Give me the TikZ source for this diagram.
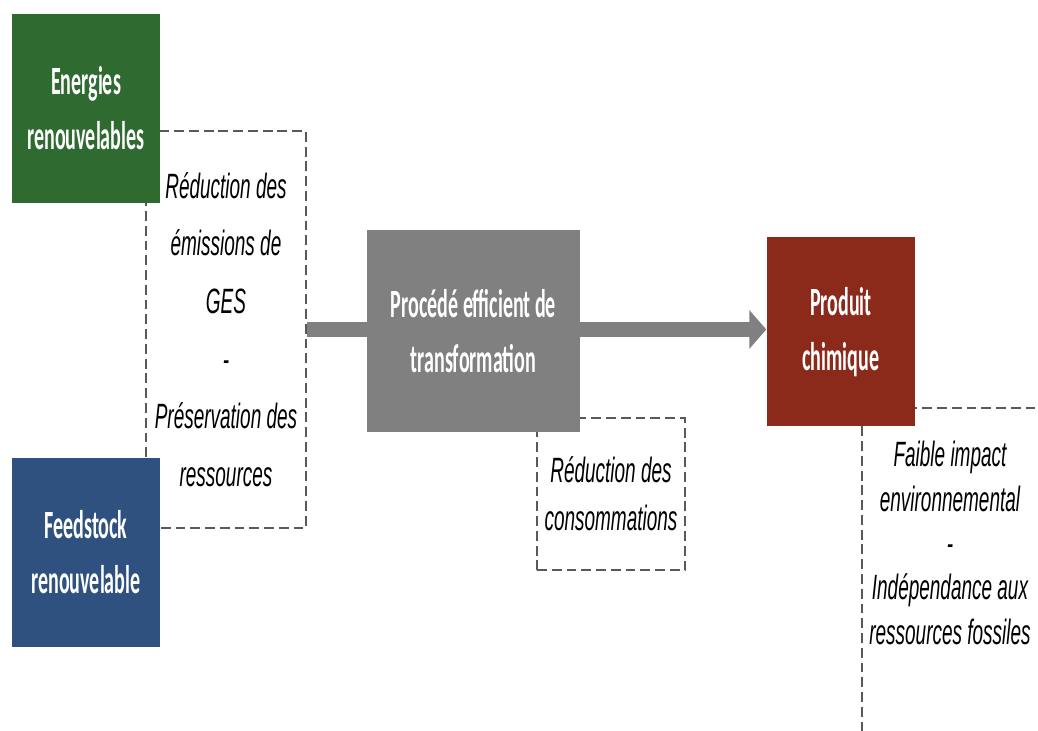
\documentclass[tikz,border=0pt]{standalone}
\usepackage{fontspec}
\setmainfont{Liberation Sans}
\newfontfamily\boxfont[FakeStretch=0.5]{Carlito}
\newfontfamily\notefont[FakeStretch=0.54]{Liberation Sans}
\usetikzlibrary{arrows.meta}
\pgfdeclarelayer{background}
\pgfsetlayers{background,main}
\definecolor{energy green}{RGB}{47,106,49}
\definecolor{feed blue}{RGB}{46,81,128}
\definecolor{product red}{RGB}{139,42,26}
\colorlet{process gray}{black!50}
\colorlet{frame edge}{black!65}
\tikzset{
  block/.style={fill=process gray, text=white, minimum width=1.48cm, minimum height=1.89cm, inner sep=0pt, align=center, font=\boxfont\bfseries\fontsize{11.4}{15.6}\selectfont},
  note/.style={align=center, inner sep=0pt, font=\notefont\itshape\fontsize{10}{16.4}\selectfont}
  }
\tikzstyle{frame} = [draw=frame edge, line width=0.6pt, dash pattern=on 2.8pt off 1.4pt]
\tikzstyle{flow} = [draw=process gray, line width=0.15cm, -{Triangle[length=0.17cm,width=0.38cm]}]

\begin{document}
\begin{tikzpicture}
    \useasboundingbox (0,0) rectangle (10.38,7.31);

    \foreach \name/\pos/\col/\txt in {ener/{(0.86,6.225)}/energy green/{Energies\\renouvelables}, feed/{(0.86,1.785)}/feed blue/{Feedstock\\renouvelable}, prod/{(8.41,3.99)}/product red/{Produit\\chimique}}
      \node[block, fill=\col] (\name) at \pos {\txt};

    \node[block, minimum width=2.13cm, minimum height=2.02cm] (proc) at (4.735,4.0) {Procédé efficient de\\transformation};

    \node[note] (impact) at (9.5,1.88) [font=\notefont\itshape\fontsize{10}{12.6}\selectfont]
      {Faible impact\\environnemental\\-\\Indépendance aux\\ressources fossiles};

    % frames and flow sit behind the blocks
    \begin{pgfonlayer}{background}
      \node[note, frame, minimum width=1.6cm, minimum height=3.97cm] (gains) at (2.26,4.015)
        {Réduction des\\émissions de\\GES\\-\\Préservation des\\ressources};
      \node[note, frame, minimum width=1.48cm, minimum height=1.52cm] (conso) at (6.11,2.37)
        [font=\notefont\itshape\fontsize{10}{13.7}\selectfont] {Réduction des\\consommations};
      \begin{scope}
        \clip (0,0) rectangle (10.38,7.31);
        \draw[frame] (8.62,-0.3) rectangle (10.7,3.23);
      \end{scope}
      \path[flow] (gains.east) -- (gains.east -| prod.west);
    \end{pgfonlayer}

\end{tikzpicture}
\end{document}
